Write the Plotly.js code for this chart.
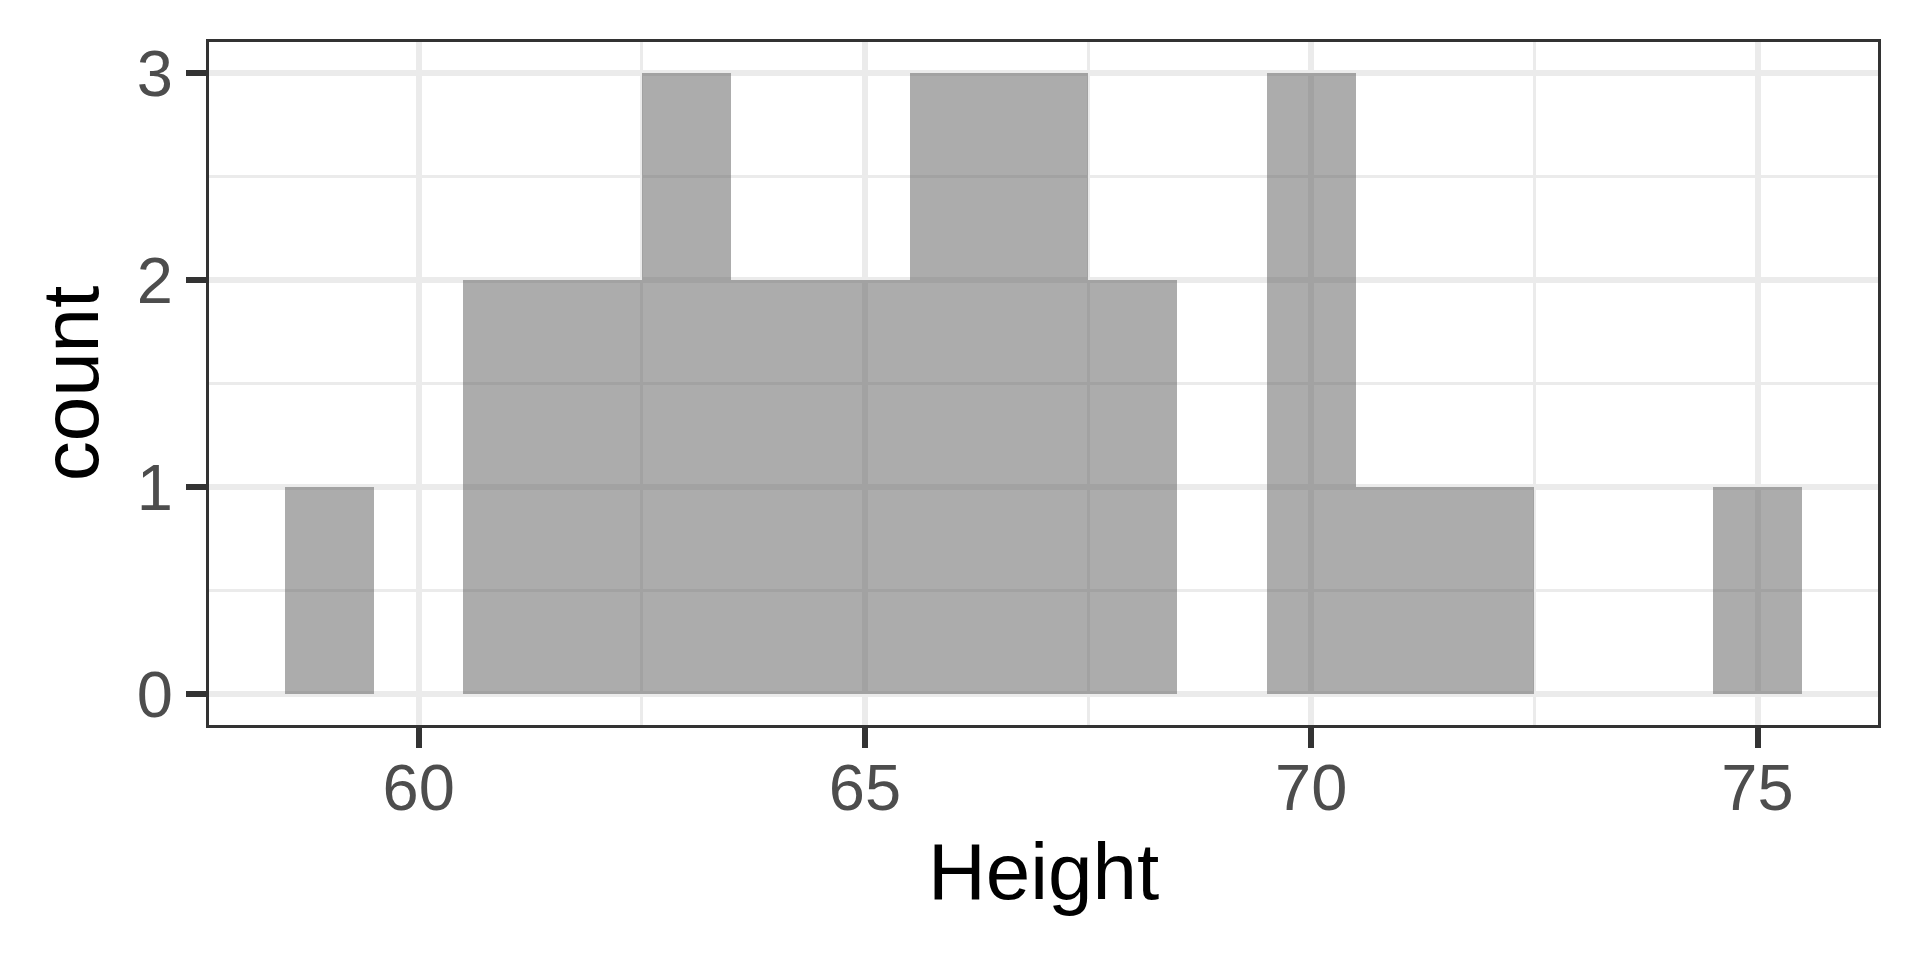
<!DOCTYPE html>
<html>
<head>
<meta charset="utf-8">
<script src="https://cdn.plot.ly/plotly-3.0.1.min.js"></script>
<style>html,body{margin:0;padding:0;background:#fff;}#chart{width:1920px;height:960px;}</style>
</head>
<body>
<div id="chart"></div>
<script>
// Histogram of Height, binwidth 1, bins centred on integers
const binCenters = [59, 60, 61, 62, 63, 64, 65, 66, 67, 68, 69, 70, 71, 72, 73, 74, 75];
const counts     = [1,  0,  2,  2,  3,  2,  2,  3,  3,  2,  0,  3,  1,  1,  0,  0,  1];
const xTicks = [60, 65, 70, 75];
const yTicks = [0, 1, 2, 3];
const xTitle = "Height";
const yTitle = "count";

const FONT = "Liberation Sans, Arial, Helvetica, sans-serif";

const trace = {
  type: "bar",
  x: binCenters,
  y: counts,
  width: 1,
  marker: {color: "rgba(89,89,89,0.5)", line: {width: 0}},
  hoverinfo: "x+y"
};

const axisCommon = {
  showgrid: true,
  gridcolor: "#EBEBEB",
  gridwidth: 6,
  zeroline: false,
  showline: true,
  mirror: true,
  linecolor: "#333333",
  linewidth: 3,
  ticks: "outside",
  ticklen: 20,
  tickwidth: 6,
  tickcolor: "#333333",
  tickfont: {family: FONT, size: 65, color: "#4D4D4D"},
  automargin: false
};

const layout = {
  width: 1920,
  height: 960,
  margin: {l: 209, r: 42, t: 42, b: 235},
  paper_bgcolor: "#FFFFFF",
  plot_bgcolor: "#FFFFFF",
  showlegend: false,
  bargap: 0,
  xaxis: Object.assign({}, axisCommon, {
    range: [57.65, 76.35],
    tickvals: xTicks,
    ticktext: xTicks.map(String),
    ticklabelstandoff: -16,
    minor: {tickvals: [57.5, 62.5, 67.5, 72.5], showgrid: true, gridcolor: "#EBEBEB", gridwidth: 3, ticks: ""},
    title: {text: xTitle, font: {family: FONT, size: 80, color: "#000000"}, standoff: 20}
  }),
  yaxis: Object.assign({}, axisCommon, {
    range: [-0.15, 3.15],
    tickvals: yTicks,
    ticktext: yTicks.map(String),
    ticklabelstandoff: 0,
    minor: {tickvals: [0.5, 1.5, 2.5], showgrid: true, gridcolor: "#EBEBEB", gridwidth: 3, ticks: ""},
    title: {text: yTitle, font: {family: FONT, size: 80, color: "#000000"}, standoff: 12}
  })
};

Plotly.newPlot("chart", [trace], layout, {displayModeBar: false, staticPlot: true});
</script>
</body>
</html>
